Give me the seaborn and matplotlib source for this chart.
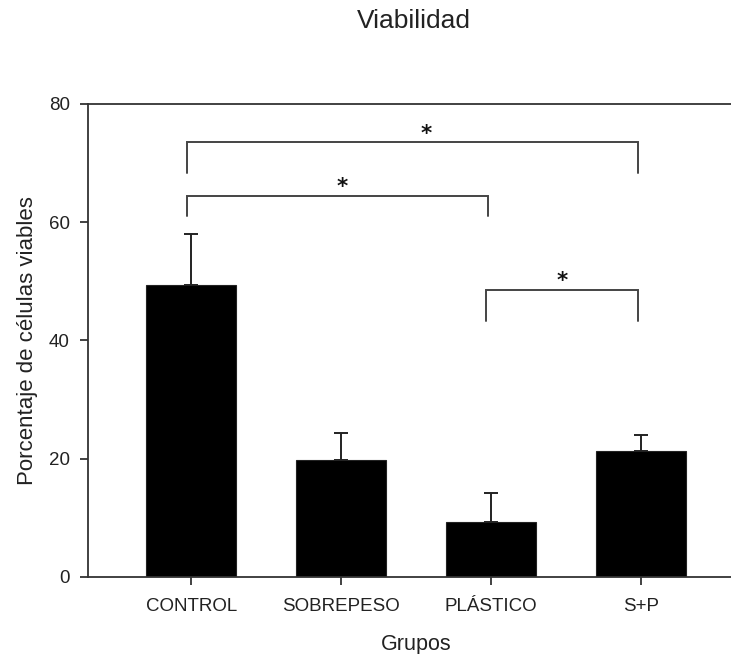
import matplotlib
matplotlib.use("Agg")
import matplotlib.pyplot as plt
import seaborn as sns
import pandas as pd

# ---- data ----
groups = ["CONTROL", "SOBREPESO", "PLÁSTICO", "S+P"]
means = [49.4, 19.7, 9.3, 21.3]
errors = [8.6, 4.7, 4.9, 2.7]
# significance brackets: (left group index, right group index, bar height, leg bottom)
bracket_left = [0, 0, 2]
bracket_right = [3, 2, 3]
bracket_top = [73.6, 64.5, 48.6]
bracket_leg = [68.4, 61.0, 43.3]
bracket_label = ["*", "*", "*"]
y_ticks = [0, 20, 40, 60, 80]

# label placement offsets (style only)
star_dx = [0.09, 0.03, 0.0]

sns.set_theme(style="white")
plt.rcParams["font.family"] = ["Liberation Sans", "DejaVu Sans"]

df = pd.DataFrame({"grupo": groups, "valor": means})

fig = plt.figure(figsize=(7.31, 6.54), dpi=100)
ax = fig.add_axes([88 / 731, 1 - 576.7 / 654, (744 - 88) / 731, (576.7 - 104) / 654])

sns.barplot(data=df, x="grupo", y="valor", order=groups, color="black",
            width=0.6, edgecolor="#222222", linewidth=0.8, saturation=1, ax=ax)
bar_x = [p.get_x() + p.get_width() / 2 for p in ax.patches]
ax.errorbar(bar_x, means, yerr=[[0] * len(errors), errors], fmt="none",
            ecolor="#222222", elinewidth=1.4, capsize=4.7, capthick=1.4, zorder=3)

for l, r, top, leg, lab, dx in zip(bracket_left, bracket_right, bracket_top,
                                   bracket_leg, bracket_label, star_dx):
    xl, xr = bar_x[l] - 0.03, bar_x[r] - 0.02
    ax.plot([xl, xl, xr, xr], [leg, top, top, leg], color="#444444", lw=1.4,
            solid_joinstyle="miter", clip_on=False)
    ax.text((xl + xr) / 2 + dx, top - 0.3, lab, ha="center", va="bottom",
            fontsize=15.5, fontweight="bold", family=["DejaVu Sans"], color="#111111")

ax.set_xlim(-0.69, 3.69)
ax.set_ylim(0, 80)
ax.set_yticks(y_ticks)
ax.set_yticklabels([str(t) for t in y_ticks])

for side in ["left", "bottom", "top"]:
    ax.spines[side].set_visible(True)
    ax.spines[side].set_color("#333333")
    ax.spines[side].set_linewidth(1.3)
ax.spines["right"].set_visible(False)

ax.tick_params(axis="both", which="both", direction="out", length=6, width=1.3,
               color="#333333", labelsize=13.5, labelcolor="#222222")
ax.tick_params(axis="x", pad=9)
ax.tick_params(axis="y", pad=7, left=True)
ax.tick_params(axis="x", bottom=True)

ax.set_xlabel("Grupos", fontsize=15.5, color="#222222", labelpad=14)
ax.set_ylabel("Porcentaje de células viables", fontsize=16, color="#222222", labelpad=8)
fig.text(414 / 731, 1 - 21 / 654, "Viabilidad", ha="center", va="center",
         fontsize=19, color="#222222")

fig.savefig("out.png", dpi=100)
